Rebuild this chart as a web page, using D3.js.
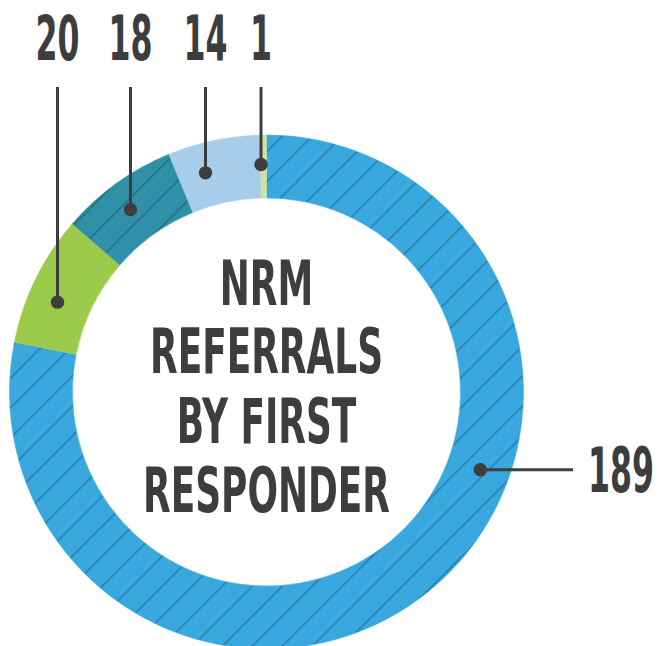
<!DOCTYPE html>
<html>
<head>
<meta charset="utf-8">
<script src="https://cdn.jsdelivr.net/npm/d3@7"></script>
<style>
  html, body { margin: 0; padding: 0; background: #ffffff; }
  svg { display: block; }
  text { font-family: "Liberation Sans Narrow", "DejaVu Sans Condensed", "Liberation Sans", sans-serif; font-weight: bold; fill: #3d3d3d; }
</style>
</head>
<body>
<script>
// ---- data ----
const categories = ["A", "B", "C", "D", "E"];
const values = [189, 20, 18, 14, 1];
const valueLabels = ["189", "20", "18", "14", "1"];
const titleLines = ["NRM", "REFERRALS", "BY FIRST", "RESPONDER"];

// ---- styles / layout ----
const colors = ["#38a8de", "#9ccb4c", "#2f90a8", "#a7cdeb", "#cee3a1"];
const hatchColors = ["#2a80b2", null, "#24708a", null, null];
const labelX = [null, 57.5, 130.5, 205.5, 261];   // x of vertical leader lines
const W = 658, H = 646;
const cx = 266.5, cy = 392, rOuter = 257, rInner = 194, rDot = 227.5;
const fontSize = 62;

const svg = d3.select("body").append("svg").attr("width", W).attr("height", H);
const defs = svg.append("defs");

hatchColors.forEach((c, i) => {
  if (!c) return;
  const p = defs.append("pattern")
    .attr("id", "hatch" + i)
    .attr("patternUnits", "userSpaceOnUse")
    .attr("width", 30).attr("height", 30);
  p.append("rect").attr("width", 30).attr("height", 30).attr("fill", colors[i]);
  p.append("path").attr("d", "M-3,3 L3,-3 M0,30 L30,0 M27,33 L33,27")
    .attr("stroke", c).attr("stroke-width", 1.6);
});

const pie = d3.pie().sort(null).startAngle(0).endAngle(2 * Math.PI);
const arcs = pie(values);
const arc = d3.arc().innerRadius(rInner).outerRadius(rOuter);

const g = svg.append("g").attr("transform", `translate(${cx},${cy})`);
g.selectAll("path.slice").data(arcs).join("path")
  .attr("class", "slice")
  .attr("d", arc)
  .attr("fill", (d, i) => hatchColors[i] ? `url(#hatch${i})` : colors[i])
  .attr("stroke", (d, i) => colors[i]).attr("stroke-width", 0.5);

// measure horizontal compression factors so that the font looks condensed
function natural(str) {
  const probe = svg.append("text").attr("font-size", fontSize).text(str);
  const w = probe.node().getComputedTextLength();
  probe.remove();
  return w;
}
const kTitle = 233 / natural(titleLines[1]);
const kNum = 66 / natural(valueLabels[0]);

function addText(str, x, y, anchor, k) {
  svg.append("text")
    .attr("font-size", fontSize)
    .attr("text-anchor", anchor)
    .attr("transform", `translate(${x},${y}) scale(${k},1)`)
    .text(str);
}

// centre title
const titleBase = [305, 373, 443, 512];
titleLines.forEach((t, i) => addText(t, cx, titleBase[i], "middle", kTitle));

// leader lines for small slices
const lineColor = "#3d3d3d";
for (let i = 1; i < values.length; i++) {
  const x = labelX[i];
  const dx = x - cx;
  const y = cy - Math.sqrt(rDot * rDot - dx * dx);
  svg.append("line").attr("x1", x).attr("x2", x).attr("y1", 87).attr("y2", y)
    .attr("stroke", lineColor).attr("stroke-width", 3);
  svg.append("circle").attr("cx", x).attr("cy", y).attr("r", 6.7).attr("fill", lineColor);
  addText(valueLabels[i], x, 60, "middle", kNum);
}

// leader for the big slice
const a0 = 110 * Math.PI / 180;
const dX = cx + rDot * Math.sin(a0), dY = cy - rDot * Math.cos(a0);
svg.append("line").attr("x1", dX).attr("x2", 573).attr("y1", dY).attr("y2", dY)
  .attr("stroke", lineColor).attr("stroke-width", 3);
svg.append("circle").attr("cx", dX).attr("cy", dY).attr("r", 6.7).attr("fill", lineColor);
addText(valueLabels[0], 588, 492, "start", kNum);
</script>
</body>
</html>
